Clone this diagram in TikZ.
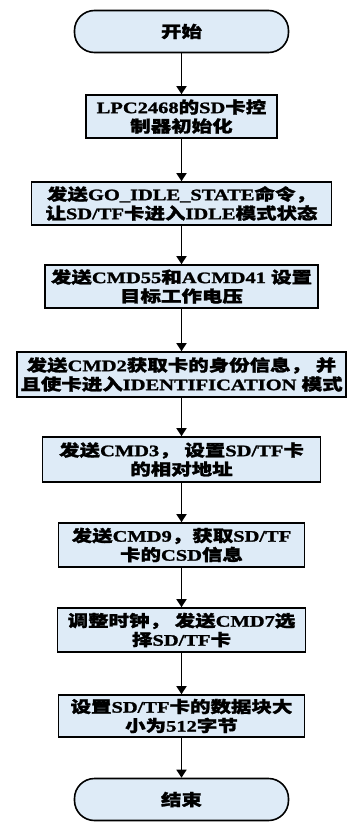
\documentclass[tikz,border=0pt]{standalone}
\usepackage{fontspec}
\setmainfont{Liberation Serif}[FakeStretch=1.28, BoldFeatures={FakeBold=1.5}]
\newfontfamily\cjk{Noto Sans CJK SC}[FakeStretch=1.28, BoldFeatures={FakeBold=1.5}]
\newcommand{\zh}[1]{{\cjk #1}}
\usetikzlibrary{arrows.meta}
\definecolor{boxblue}{RGB}{222,235,247}

\begin{document}
\begin{tikzpicture}[x=1pt,y=-1pt,
	stepbox/.style={draw=black, line width=1.6pt, fill=boxblue, align=center, inner xsep=0pt, inner ysep=1pt, font=\bfseries\fontsize{16}{19}\selectfont},
	endbox/.style={stepbox, rounded corners=20pt, minimum width=214pt, minimum height=42pt},
	flow/.style={line width=1.6pt, -{Triangle[width=10pt,length=8pt]}}]
	\useasboundingbox (0,0) rectangle (348,822);

	\node [endbox] (start) at (181.5,31.5) {\zh{开始}};
	\node [stepbox, minimum width=191pt, minimum height=43pt] (init) at (181.5,116.5) {LPC2468\zh{的}SD\zh{卡控}\\\zh{制器初始化}};
	\node [stepbox, minimum width=300pt, minimum height=43pt] (idle) at (181.5,203.5) {\zh{发送}GO\_IDLE\_STATE\zh{命令，}\\\zh{让}SD/TF\zh{卡进入}IDLE\zh{模式状态}};
	\node [stepbox, minimum width=273pt, minimum height=43pt] (volt) at (181.5,286.5) {\zh{发送}CMD55\zh{和}ACMD41 \zh{设置}\\\zh{目标工作电压}};
	\node [stepbox, minimum width=329pt, minimum height=45pt] (ident) at (181.5,374.5) {\zh{发送}CMD2\zh{获取卡的身份信息， 并}\\\zh{且使卡进入}IDENTIFICATION \zh{模式}};
	\node [stepbox, minimum width=278pt, minimum height=45pt] (addr) at (181.5,459.5) {\zh{发送}CMD3\zh{， 设置}SD/TF\zh{卡}\\\zh{的相对地址}};
	\node [stepbox, minimum width=246pt, minimum height=44pt] (csd) at (181.5,545) {\zh{发送}CMD9\zh{，获取}SD/TF\\\zh{卡的}CSD\zh{信息}};
	\node [stepbox, minimum width=248pt, minimum height=44pt] (sel) at (181.5,630) {\zh{调整时钟， 发送}CMD7\zh{选}\\\zh{择}SD/TF\zh{卡}};
	\node [stepbox, minimum width=246pt, minimum height=42pt] (blk) at (181.5,716) {\zh{设置}SD/TF\zh{卡的数据块大}\\\zh{小为}512\zh{字节}};
	\node [endbox] (stop) at (181.5,799.5) {\zh{结束}};

	\draw [flow] (start) -- (init);
	\draw [flow] (init) -- (idle);
	\draw [flow] (idle) -- (volt);
	\draw [flow] (volt) -- (ident);
	\draw [flow] (ident) -- (addr);
	\draw [flow] (addr) -- (csd);
	\draw [flow] (csd) -- (sel);
	\draw [flow] (sel) -- (blk);
	\draw [flow] (blk) -- (stop);
\end{tikzpicture}
\end{document}
